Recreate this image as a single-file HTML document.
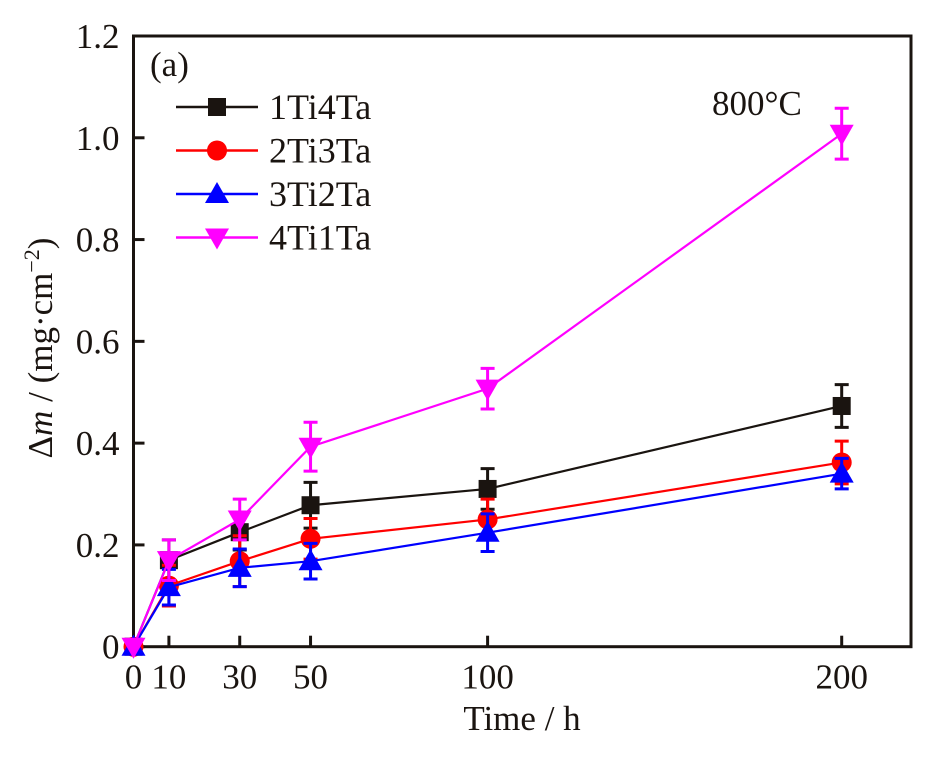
<!DOCTYPE html>
<html><head><meta charset="utf-8"><style>
body{margin:0;background:#fff}
svg text{font-family:"Liberation Serif",serif;fill:#1a1410}
</style></head><body>
<svg id="chart" width="937" height="754" xmlns="http://www.w3.org/2000/svg">
<g id="plot"></g>
</svg>
<script>
const xTicks=[0,10,30,50,100,200];
const yTicks=[0,0.2,0.4,0.6,0.8,1.0,1.2];
const yTickLabels=["0","0.2","0.4","0.6","0.8","1.0","1.2"];
const times=[0,10,30,50,100,200];
const s1=[0,0.17,0.225,0.278,0.31,0.473];
const e1=[0,0.04,0.035,0.045,0.04,0.042];
const s2=[0,0.12,0.168,0.212,0.25,0.362];
const e2=[0,0.04,0.05,0.04,0.04,0.042];
const s3=[0,0.117,0.155,0.168,0.224,0.34];
const e3=[0,0.035,0.037,0.035,0.037,0.03];
const s4=[0,0.17,0.25,0.393,0.507,1.008];
const e4=[0,0.04,0.04,0.048,0.04,0.05];
const names=["1Ti4Ta","2Ti3Ta","3Ti2Ta","4Ti1Ta"];

const L=133.5,R=911,T=36,B=646.7;
const X=v=>L+v*3.541;
const Y=v=>B-v*(B-T)/1.2;
const NS="http://www.w3.org/2000/svg";
const g=document.getElementById('plot');
function mk(t,a,p){const e=document.createElementNS(NS,t);for(const k in a)e.setAttribute(k,a[k]);(p||g).appendChild(e);return e;}

const fr=mk('rect',{x:L,y:T,width:R-L,height:B-T,fill:'none',stroke:'#1a1410','stroke-width':3});



xTicks.forEach(v=>{
 const t=mk('line',{x1:X(v),x2:X(v),y1:B,y2:B-11,stroke:'#1a1410','stroke-width':3});
 
 
 const l=mk('text',{x:X(v),y:B+42,'font-size':35,'text-anchor':'middle'});l.textContent=v;
 
 
});
yTicks.forEach((v,i)=>{
 const t=mk('line',{x1:L,x2:L+11,y1:Y(v),y2:Y(v),stroke:'#1a1410','stroke-width':3});
 
 
 const l=mk('text',{x:L-14,y:Y(v)+12,'font-size':35,'text-anchor':'end'});l.textContent=yTickLabels[i];
 
 
});

const series=[[s1,e1,'#1a1410','sq'],[s2,e2,'#ff0000','ci'],[s3,e3,'#0000ff','up'],[s4,e4,'#ff00ff','dn']];
function marker(type,x,y,c,p){
 let m;
 if(type==='sq')m=mk('rect',{x:x-9,y:y-9,width:18,height:18,fill:c},p);
 else if(type==='ci')m=mk('circle',{cx:x,cy:y,r:10,fill:c},p);
 else if(type==='up')m=mk('polygon',{points:`${x},${y-12} ${x-12},${y+9} ${x+12},${y+9}`,fill:c},p);
 else m=mk('polygon',{points:`${x},${y+12} ${x-12},${y-9} ${x+12},${y-9}`,fill:c},p);
 return m;
}
series.forEach((s,si)=>{
 const [vals,errs,c,type]=s;
 const sg=mk('g',{});
 
 
 const pl=mk('polyline',{points:times.map((t,i)=>X(t)+','+Y(vals[i])).join(' '),fill:'none',stroke:c,'stroke-width':2.2},sg);
 
 
 times.forEach((t,i)=>{
  if(errs[i]>0){
   const x=X(t),y1=Y(vals[i]+errs[i]),y2=Y(vals[i]-errs[i]);
   const eb=mk('path',{d:`M${x},${y1}V${y2}M${x-7},${y1}H${x+7}M${x-7},${y2}H${x+7}`,stroke:c,'stroke-width':3,fill:'none'},sg);
   
   
  }
  const m=marker(type,X(t),Y(vals[i]),c,sg);
  
  
 });
});

const lg=mk('g',{});


series.forEach((s,i)=>{
 const y=107+i*43.5;
 const ln=mk('line',{x1:176,x2:258,y1:y,y2:y,stroke:s[2],'stroke-width':2.5},lg);
 
 
 const m=marker(s[3],217,y,s[2],lg);
 
 
 const t=mk('text',{x:269,y:y+12,'font-size':36},lg);t.textContent=names[i];
 
 
});
const a=mk('text',{x:150,y:76,'font-size':35});a.textContent='(a)';


const tc=mk('text',{x:712,y:115,'font-size':35});tc.textContent='800°C';


const xt=mk('text',{x:522,y:730,'font-size':35,'text-anchor':'middle'});xt.textContent='Time / h';


const yt=mk('text',{x:0,y:0,'font-size':35,'text-anchor':'middle',transform:'translate(52,348) rotate(-90)'});
yt.innerHTML='Δ<tspan font-style="italic">m</tspan> / (mg·cm<tspan font-size="22" dy="-13">−2</tspan><tspan dy="13">)</tspan>';


</script>
</body></html>
